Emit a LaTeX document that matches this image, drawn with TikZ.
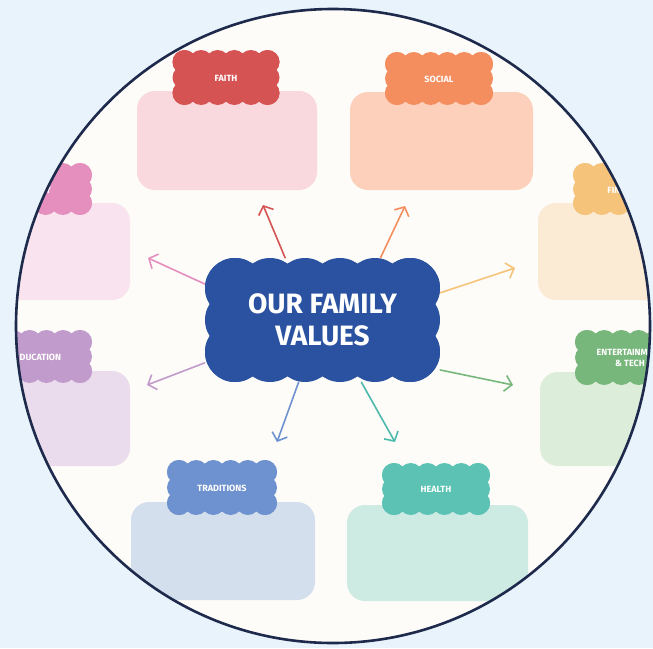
\documentclass[tikz,border=0pt]{standalone}
\usepackage{fontspec}
\setmainfont{Fira Sans}
\usetikzlibrary{arrows.meta}

\definecolor{sky}{HTML}{E8F3FB}
\definecolor{paper}{HTML}{FDFCF8}
\definecolor{rim}{HTML}{1E2A4C}
\definecolor{valuesblue}{HTML}{2A52A0}
\definecolor{faithc}{HTML}{D65353}   \definecolor{faithb}{HTML}{F9D9DD}
\definecolor{socialc}{HTML}{F58E5F}  \definecolor{socialb}{HTML}{FCD0BB}
\definecolor{familyc}{HTML}{E58FBE}  \definecolor{familyb}{HTML}{F9E3EE}
\definecolor{moneyc}{HTML}{F6C37B}   \definecolor{moneyb}{HTML}{FBEAD4}
\definecolor{schoolc}{HTML}{C19BCB}  \definecolor{schoolb}{HTML}{EADCEC}
\definecolor{func}{HTML}{78B77C}     \definecolor{funb}{HTML}{DCEDD9}
\definecolor{tradc}{HTML}{6E92CF}    \definecolor{tradb}{HTML}{D4DFEE}
\definecolor{healthc}{HTML}{5BC2B4}  \definecolor{healthb}{HTML}{CDEAE3}

% scalloped label: centre x, centre y, half width, half height, bump radius, bumps across, bumps down, colour
\newcommand{\puff}[8]{%
  \fill[#8] ({#1-#3+#5},{#2-#4+#5}) rectangle ({#1+#3-#5},{#2+#4-#5});
  \foreach \i in {0,...,#6}
    \fill[#8] ({#1-#3+#5+\i*(2*#3-2*#5)/#6},{#2-#4+#5}) circle (#5pt)
              ({#1-#3+#5+\i*(2*#3-2*#5)/#6},{#2+#4-#5}) circle (#5pt);
  \foreach \j in {0,...,#7}
    \fill[#8] ({#1-#3+#5},{#2-#4+#5+\j*(2*#4-2*#5)/#7}) circle (#5pt)
              ({#1+#3-#5},{#2-#4+#5+\j*(2*#4-2*#5)/#7}) circle (#5pt);
}

\begin{document}
\begin{tikzpicture}[x=1pt, y=-1pt,
    card/.style={rounded corners=18pt},
    tag/.style={text=white, font=\fontsize{9}{10.5}\selectfont\bfseries, align=center, inner sep=0pt},
    spoke/.style={line width=1.6pt, line cap=round, -{Straight Barb[length=7pt,width=16pt,line width=1.6pt]}}]
    \useasboundingbox (0,0) rectangle (653,648);
    \fill[sky] (0,0) rectangle (653,648);

    \begin{scope}
        \clip (333,326) circle (317pt);
        \fill[paper] (333,326) circle (317pt);

        % cards
        \fill[card, faithb]  (137,91)  rectangle (317,190);
        \fill[card, socialb] (350,92)  rectangle (533,190);
        \fill[card, familyb] (-60,203) rectangle (130,300);
        \fill[card, moneyb]  (538,203) rectangle (720,300);
        \fill[card, schoolb] (-60,371) rectangle (130,466);
        \fill[card, funb]    (540,372) rectangle (720,466);
        \fill[card, tradb]   (131,502) rectangle (315,600);
        \fill[card, healthb] (347,505) rectangle (528,601);

        % labels
        \puff{226}{77.5}{53.5}{27.5}{12}{5}{2}{faithc}
        \node[tag] (faith) at (226,78) {FAITH};
        \puff{439}{78.5}{54}{26.5}{12}{5}{2}{socialc}
        \node[tag] (social) at (439,79) {SOCIAL};
        \puff{37}{189}{55}{26}{12}{5}{2}{familyc}
        \node[tag] (family) at (37,190) {FAMILY};
        \puff{627}{189}{54}{26}{12}{5}{2}{moneyc}
        \node[tag] (money) at (627,190) {FINANCES};
        \puff{38}{356.5}{54}{26.5}{12}{5}{2}{schoolc}
        \node[tag] (school) at (38,357) {EDUCATION};
        \puff{630}{357.5}{55}{27.5}{12}{5}{2}{func}
        \node[tag] (fun) at (630,358) {ENTERTAINMENT\\\& TECH};
        \puff{222}{487.5}{55}{27.5}{12}{5}{2}{tradc}
        \node[tag] (trad) at (222,488) {TRADITIONS};
        \puff{436}{489}{54}{26}{12}{5}{2}{healthc}
        \node[tag] (health) at (436,489) {HEALTH};

        % centre
        \node[minimum width=235pt, minimum height=124pt, inner sep=0pt] (values) at (322.5,320) {};

        \coordinate (faithtip)  at (263,205);
        \coordinate (socialtip) at (405,206);
        \coordinate (familytip) at (148,258);
        \coordinate (moneytip)  at (515,268);
        \coordinate (schooltip) at (147,385);
        \coordinate (funtip)    at (513,385);
        \coordinate (tradtip)   at (277,442);
        \coordinate (healthtip) at (395,442);

        \draw[spoke, faithc]           (values.121) -- (faithtip);
        \draw[spoke, socialc]          (values.47)  -- (socialtip);
        \draw[spoke, familyc]          (values.163) -- (familytip);
        \draw[spoke, moneyc]           (values.13)  -- (moneytip);
        \draw[spoke, schoolc]          (values.200) -- (schooltip);
        \draw[spoke, func]             (values.337) -- (funtip);
        \draw[spoke, tradc]            (values.249) -- (tradtip);
        \draw[spoke, healthc!85!teal]  (values.302) -- (healthtip);

        \puff{322.5}{320}{117.5}{62}{30}{5}{2}{valuesblue}
        \node[text=white, font=\fontsize{28}{32}\selectfont\bfseries, align=center] (title) at (values) {OUR FAMILY\\VALUES};
    \end{scope}

    \draw[rim, line width=2.6pt] (333,326) circle (317pt);
\end{tikzpicture}
\end{document}
